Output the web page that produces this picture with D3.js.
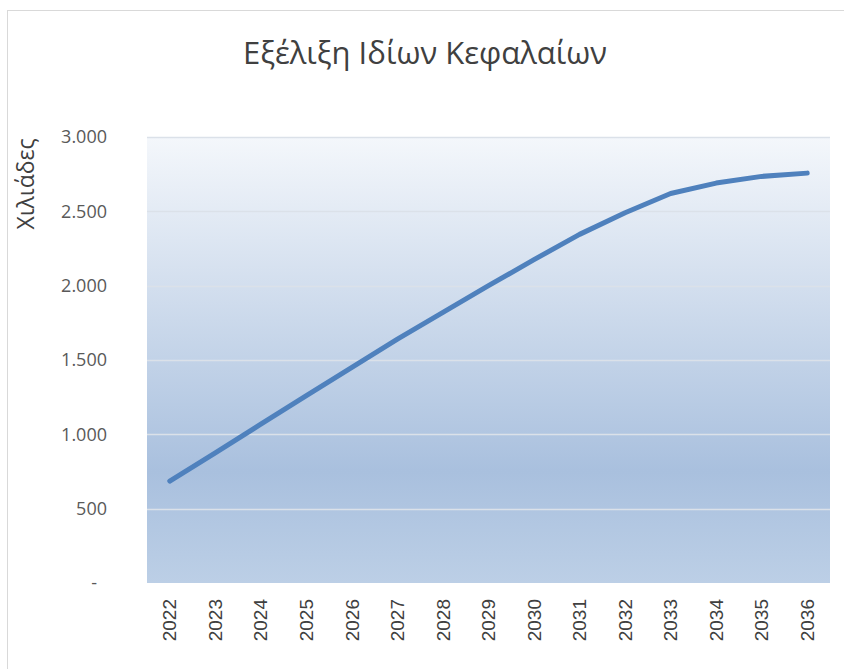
<!DOCTYPE html>
<html lang="el">
<head>
<meta charset="UTF-8">
<title>Εξέλιξη Ιδίων Κεφαλαίων</title>
<script src="https://cdn.jsdelivr.net/npm/d3@7"></script>
<style>
  body { margin: 0; background: #fff; font-family: "Open Sans", "Noto Sans", sans-serif; }
</style>
</head>
<body>
<div id="chart"></div>
<script>
// data (thousands)
const years = ["2022","2023","2024","2025","2026","2027","2028","2029","2030","2031","2032","2033","2034","2035","2036"];
const values = [686, 876, 1068, 1260, 1450, 1640, 1820, 2000, 2175, 2345, 2490, 2620, 2690, 2735, 2757];
const yTicks = [0, 500, 1000, 1500, 2000, 2500, 3000];

const W = 844, H = 669;
const plot = { left: 147, right: 830, top: 137, bottom: 583 };

const svg = d3.select("#chart").append("svg")
    .attr("width", W).attr("height", H);

// chart border
svg.append("rect")
    .attr("x", 7.5).attr("y", 10.5)
    .attr("width", W).attr("height", H)
    .attr("fill", "#fff").attr("stroke", "#d9d9d9");

const grad = svg.append("defs").append("linearGradient")
    .attr("id", "bg").attr("x1", 0).attr("y1", 0).attr("x2", 0).attr("y2", 1);
grad.append("stop").attr("offset", "0%").attr("stop-color", "#f4f7fb");
grad.append("stop").attr("offset", "75%").attr("stop-color", "#a9c0de");
grad.append("stop").attr("offset", "100%").attr("stop-color", "#bccfe6");

const x = d3.scaleBand().domain(years).range([plot.left, plot.right]);
const y = d3.scaleLinear().domain([0, 3000]).range([plot.bottom, plot.top]);

svg.append("rect")
    .attr("x", plot.left).attr("y", plot.top)
    .attr("width", plot.right - plot.left).attr("height", plot.bottom - plot.top)
    .attr("fill", "url(#bg)");

// gridlines
svg.append("g").selectAll("line")
    .data(yTicks.filter(d => d > 0))
    .join("line")
    .attr("x1", plot.left).attr("x2", plot.right)
    .attr("y1", d => Math.round(y(d)) + 0.5).attr("y2", d => Math.round(y(d)) + 0.5)
    .attr("stroke", "#dbe1e9").attr("stroke-width", 1.5);

// y axis (accounting style: zero shown as a dash, padded in)
const fmt = d => d === 0 ? "-" : d3.format(",")(d).replace(/,/g, ".");
const yAxis = svg.append("g")
    .attr("transform", `translate(${plot.left - 40},0)`)
    .call(d3.axisLeft(y).tickValues(yTicks).tickFormat(fmt).tickSize(0).tickPadding(0));
yAxis.select(".domain").remove();
yAxis.selectAll("text")
    .attr("font-family", "'Open Sans', sans-serif")
    .attr("font-size", 18).attr("fill", "#595959")
    .attr("x", d => d === 0 ? -10 : 0);

// x axis
const xAxis = svg.append("g")
    .attr("transform", `translate(0,${plot.bottom})`)
    .call(d3.axisBottom(x).tickSize(0));
xAxis.select(".domain").remove();
xAxis.selectAll("text")
    .attr("font-family", "'Liberation Sans', Arial, sans-serif")
    .attr("font-size", 19).attr("fill", "#404040")
    .attr("transform", "rotate(-90)")
    .attr("text-anchor", "end")
    .attr("dy", "0.35em")
    .attr("x", -16).attr("y", 0);

// line
const line = d3.line()
    .x((d, i) => x(years[i]) + x.bandwidth() / 2)
    .y(d => y(d));

svg.append("path")
    .datum(values)
    .attr("d", line)
    .attr("fill", "none")
    .attr("stroke", "#4f81bd")
    .attr("stroke-width", 5)
    .attr("stroke-linecap", "round")
    .attr("stroke-linejoin", "round");

// title
svg.append("text")
    .attr("x", 425).attr("y", 64)
    .attr("text-anchor", "middle")
    .attr("font-family", "'Open Sans', sans-serif")
    .attr("font-size", 31).attr("fill", "#404040")
    .text("Εξέλιξη Ιδίων Κεφαλαίων");

// y label
svg.append("text")
    .attr("transform", "translate(34,184) rotate(-90)")
    .attr("text-anchor", "middle")
    .attr("font-family", "'Open Sans', sans-serif")
    .attr("font-size", 23).attr("fill", "#404040")
    .text("Χιλιάδες");
</script>
</body>
</html>
